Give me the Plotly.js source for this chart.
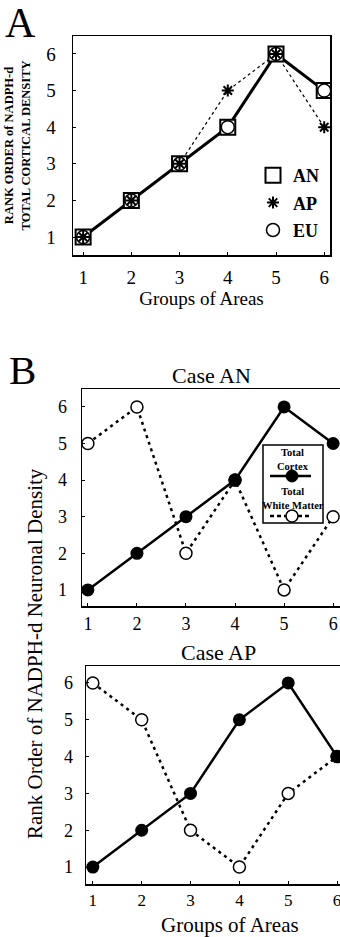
<!DOCTYPE html>
<html><head><meta charset="utf-8">
<script src="https://cdn.plot.ly/plotly-3.0.1.min.js"></script>
<style>html,body{margin:0;padding:0;background:#fff}#chart{width:340px;height:937px}</style>
</head><body><div id="chart"></div>
<script>
// ---- data ----
const groups = [1, 2, 3, 4, 5, 6];
const tickVals = [1, 2, 3, 4, 5, 6];
const tickText = ['1', '2', '3', '4', '5', '6'];
// Panel A: rank order of NADPH-d total cortical density
const rankAN = [1, 2, 3, 4, 6, 5];
const rankAP = [1, 2, 3, 5, 6, 4];
const rankEU = [1, 2, 3, 4, 6, 5];
// Panel B: Case AN
const caseANCortex = [1, 2, 3, 4, 6, 5];
const caseANWhite = [5, 6, 2, 4, 1, 3];
// Panel B: Case AP
const caseAPCortex = [1, 2, 3, 5, 6, 4];
const caseAPWhite = [6, 5, 2, 1, 3, 4];

const W = 340, H = 937;
const px = v => v / W;
const py = v => 1 - v / H;
const FONT = '"Liberation Serif", "Times New Roman", serif';
const K = '#000';

const traces = [
  // Panel A
  {x: groups, y: rankAP, xaxis: 'x', yaxis: 'y', mode: 'lines', showlegend: false, hoverinfo: 'skip',
   line: {color: K, width: 1.2, dash: 'dot'}},
  {x: groups, y: rankAN, xaxis: 'x', yaxis: 'y', mode: 'lines', showlegend: false, hoverinfo: 'skip',
   line: {color: K, width: 3}},
  {x: groups, y: rankAN, xaxis: 'x', yaxis: 'y', mode: 'markers', name: 'AN', legendrank: 1, legendgroup: 'a',
   marker: {symbol: 'square', size: 15, color: '#fff', line: {color: K, width: 2}}},
  {x: groups, y: rankEU, xaxis: 'x', yaxis: 'y', mode: 'markers', name: 'EU', legendrank: 3, legendgroup: 'c',
   marker: {symbol: 'circle', size: 13, color: '#fff', line: {color: K, width: 1.5}}},
  {x: groups, y: rankAP, xaxis: 'x', yaxis: 'y', mode: 'markers', name: 'AP', legendrank: 2, legendgroup: 'b',
   marker: {symbol: 'asterisk-open', size: 10, color: K, line: {color: K, width: 2}}},
  // Case AN
  {x: groups, y: caseANWhite, xaxis: 'x2', yaxis: 'y2', mode: 'lines+markers', name: 'Total White Matter', showlegend: false,
   line: {color: K, width: 2.5, dash: '3px,4px'},
   marker: {symbol: 'circle', size: 12, color: '#fff', line: {color: K, width: 1.5}}},
  {x: groups, y: caseANCortex, xaxis: 'x2', yaxis: 'y2', mode: 'lines+markers', name: 'Total Cortex', showlegend: false,
   line: {color: K, width: 2.5},
   marker: {symbol: 'circle', size: 13, color: K}},
  // Case AP
  {x: groups, y: caseAPWhite, xaxis: 'x3', yaxis: 'y3', mode: 'lines+markers', name: 'Total White Matter', showlegend: false,
   line: {color: K, width: 2.5, dash: '3px,4px'},
   marker: {symbol: 'circle', size: 12, color: '#fff', line: {color: K, width: 1.5}}},
  {x: groups, y: caseAPCortex, xaxis: 'x3', yaxis: 'y3', mode: 'lines+markers', name: 'Total Cortex', showlegend: false,
   line: {color: K, width: 2.5},
   marker: {symbol: 'circle', size: 13, color: K}}
];

const axBase = {
  tickmode: 'array', tickvals: tickVals, ticktext: tickText,
  showgrid: false, zeroline: false, showline: true, linecolor: K, linewidth: 1.5,
  ticks: 'inside', ticklen: 3, tickcolor: K, fixedrange: true, ticklabeloverflow: 'allow'
};

const ann = (text, x, y, size, extra) => Object.assign({
  text: text, x: px(x), y: py(y), xref: 'paper', yref: 'paper', xanchor: 'center', yanchor: 'middle',
  showarrow: false, font: {size: size}
}, extra || {});

const layout = {
  width: W, height: H,
  margin: {l: 0, r: 0, t: 0, b: 0},
  paper_bgcolor: '#fff', plot_bgcolor: '#fff',
  font: {family: FONT, color: K},
  showlegend: true,
  legend: {x: px(253), y: py(157), xanchor: 'left', yanchor: 'top', bgcolor: 'rgba(0,0,0,0)',
           font: {family: FONT, size: 18, color: K, weight: 'bold'}, tracegroupgap: 1, itemwidth: 30},
  // Panel A axes
  xaxis: Object.assign({}, axBase, {domain: [px(73), px(330)], range: [0.79, 6.12], anchor: 'y', mirror: true,
    tickfont: {size: 19}, ticklabelstandoff: 5,
    title: {text: 'Groups of Areas', font: {size: 19}, standoff: 0}}),
  yaxis: Object.assign({}, axBase, {domain: [py(255), py(36)], range: [0.51, 6.49], anchor: 'x', mirror: true,
    tickfont: {size: 19}, ticklabelstandoff: 12,
    title: {text: 'RANK ORDER of NADPH-d<br>TOTAL CORTICAL DENSITY', font: {size: 12.5, weight: 'bold'}, standoff: 13}}),
  // Case AN axes
  xaxis2: Object.assign({}, axBase, {domain: [px(82), 1], range: [0.88, 6.14], anchor: 'y2', mirror: true,
    tickfont: {size: 18}, ticklabelstandoff: 1}),
  yaxis2: Object.assign({}, axBase, {domain: [py(606), py(389)], range: [0.56, 6.49], anchor: 'x2',
    tickfont: {size: 18}, ticklabelstandoff: 10}),
  // Case AP axes
  xaxis3: Object.assign({}, axBase, {domain: [px(86), 1], range: [0.86, 6.06], anchor: 'y3', mirror: true,
    tickfont: {size: 17}, ticklabelstandoff: 0}),
  yaxis3: Object.assign({}, axBase, {domain: [py(884), py(666)], range: [0.54, 6.46], anchor: 'x3',
    tickfont: {size: 18}, ticklabelstandoff: 8}),
  annotations: [
    ann('A', 20, 23, 42),
    ann('B', 22, 370, 41),
    ann('Case AN', 211, 375, 22),
    ann('Case AP', 218, 652, 22),
    ann('Groups of Areas', 230, 925, 21),
    ann('Rank Order of NADPH-d Neuronal Density', 35, 654, 21, {textangle: -90}),
    // custom legend text for panel B
    ann('Total<br>Cortex', 293, 459, 10.5, {font: {size: 10.5, weight: 'bold'}}),
    ann('Total<br>White Matter', 293, 498, 10.5, {font: {size: 10.5, weight: 'bold'}})
  ],
  shapes: [
    {type: 'rect', xref: 'paper', yref: 'paper', x0: px(263), x1: px(323), y0: py(523), y1: py(445),
     line: {color: K, width: 1.5}, fillcolor: '#fff', layer: 'above'},
    {type: 'line', xref: 'paper', yref: 'paper', x0: px(270), x1: px(311), y0: py(476), y1: py(476),
     line: {color: K, width: 2.5}, layer: 'above'},
    {type: 'circle', xref: 'paper', yref: 'paper', xsizemode: 'pixel', ysizemode: 'pixel',
     xanchor: px(292), yanchor: py(476), x0: -6, x1: 6, y0: -6, y1: 6,
     fillcolor: K, line: {color: K, width: 1}, layer: 'above'},
    {type: 'line', xref: 'paper', yref: 'paper', x0: px(270), x1: px(311), y0: py(516), y1: py(516),
     line: {color: K, width: 2.5, dash: '4px,3px'}, layer: 'above'},
    {type: 'circle', xref: 'paper', yref: 'paper', xsizemode: 'pixel', ysizemode: 'pixel',
     xanchor: px(292), yanchor: py(516), x0: -6, x1: 6, y0: -6, y1: 6,
     fillcolor: '#fff', line: {color: K, width: 1.5}, layer: 'above'}
  ]
};

Plotly.newPlot('chart', traces, layout, {displayModeBar: false, staticPlot: true});
</script>
</body></html>
